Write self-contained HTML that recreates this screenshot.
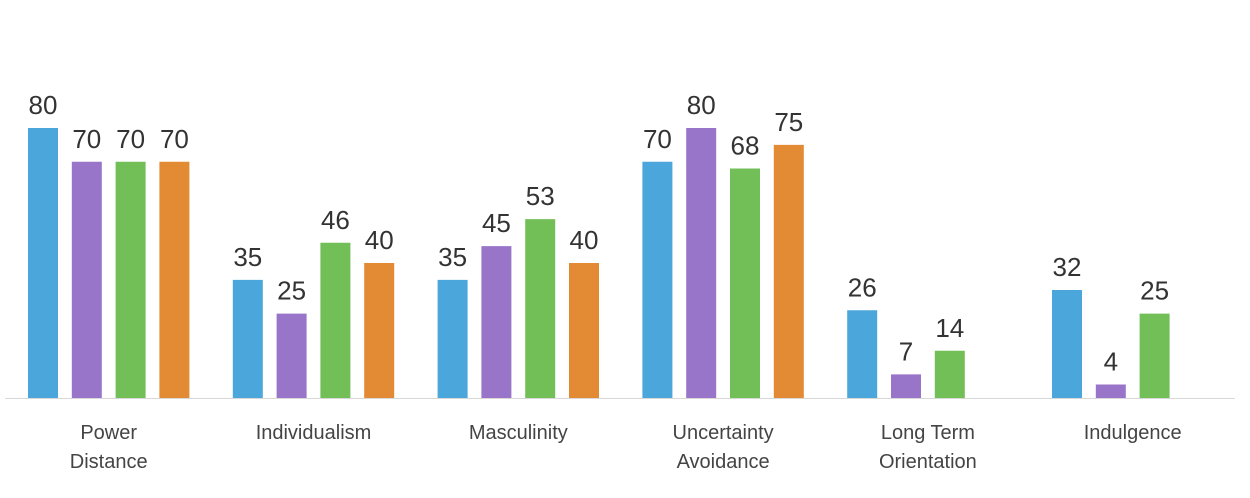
<!DOCTYPE html>
<html><head><meta charset="utf-8"><style>
body{margin:0;background:#fff;}
svg{display:block;font-family:"Liberation Sans",sans-serif;}
</style></head><body>
<svg id="chart" width="1250" height="498"></svg>
<script>
const categories=[["Power","Distance"],["Individualism"],["Masculinity"],["Uncertainty","Avoidance"],["Long Term","Orientation"],["Indulgence"]];
const series1=[80,35,35,70,26,32];
const series2=[70,25,45,80,7,4];
const series3=[70,46,53,68,14,25];
const series4=[70,40,40,75,null,null];
const seriesList=[series1,series2,series3,series4];
const colors=["#4BA6DC","#9875C8","#72BF58","#E28A34"];
const ns="http://www.w3.org/2000/svg";
const svg=document.getElementById('chart');
const baseY=398,scale=270/80,groupX0=28,groupStep=204.8,barStep=43.8,barW=30;
function y(v){return baseY-v*scale;}
function x(g,s){return groupX0+g*groupStep+s*barStep;}
function mk(t,a){const e=document.createElementNS(ns,t);for(const k in a)e.setAttribute(k,a[k]);svg.appendChild(e);return e;}
const axis=mk('line',{x1:5,x2:1235,y1:baseY+0.5,y2:baseY+0.5,stroke:'#d8d8d8','stroke-width':1});


seriesList.forEach((ser,s)=>{ser.forEach((v,g)=>{
  if(v===null)return;
  const r=mk('rect',{x:x(g,s),y:y(v),width:barW,height:v*scale,fill:colors[s]});
  
  
  const t=mk('text',{x:x(g,s)+barW/2,y:y(v)-14,'text-anchor':'middle','font-size':26,fill:'#333'});
  t.textContent=v;
  
  
});});
categories.forEach((c,g)=>{
  const cx=x(g,0)+(3*barStep+barW)/2;
  c.forEach((line,i)=>{
    const t=mk('text',{x:cx,y:439+i*29,'text-anchor':'middle','font-size':20,fill:'#444'});
    t.textContent=line;
    
    
  });
});
</script>
</body></html>
